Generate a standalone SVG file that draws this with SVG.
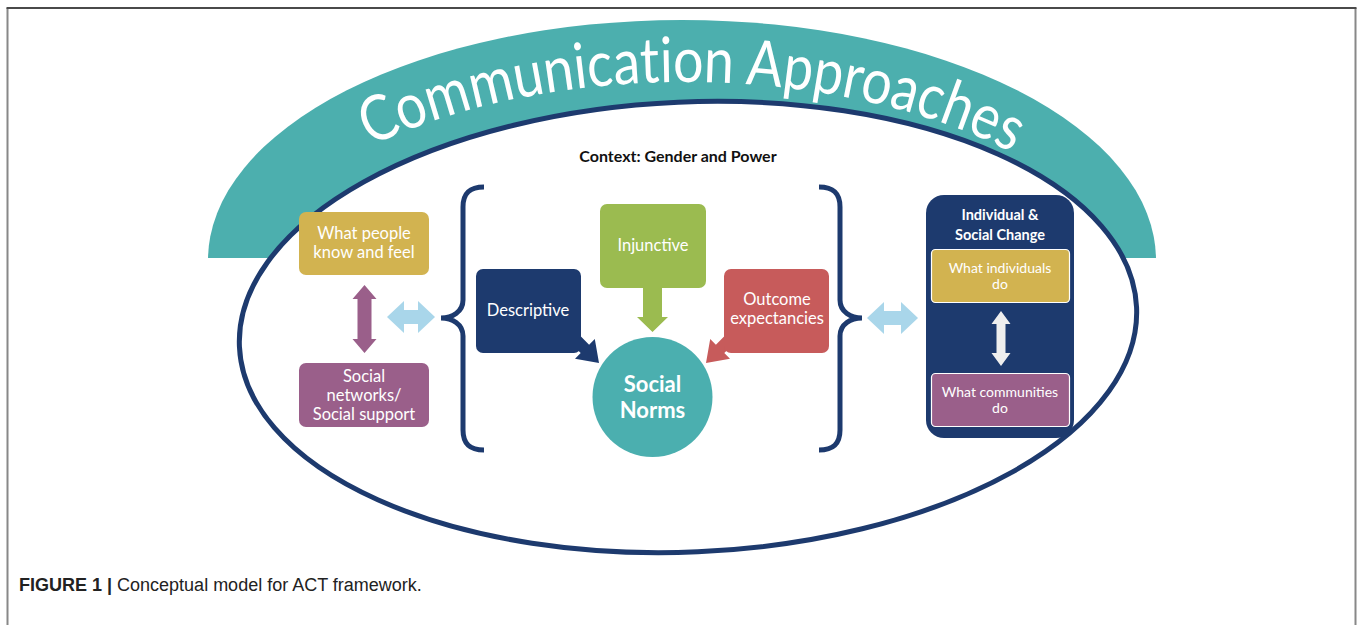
<svg xmlns="http://www.w3.org/2000/svg" xmlns:xlink="http://www.w3.org/1999/xlink" width="1358" height="625" viewBox="0 0 1358 625">
  <style>
    .lbl { font-family: Lato, "Open Sans", sans-serif; fill: #ffffff; text-anchor: middle; }
    .bold { font-weight: bold; }
    .navy { fill: #1d3a6e; }
    .gold { fill: #d2b350; }
    .purple { fill: #9a5f8a; }
    .brace { fill: none; stroke: #1d3a6e; stroke-width: 5; }
    .cap { font-family: "Liberation Sans", Arial, sans-serif; font-size: 18px; fill: #222; }
    .arc { font-family: Lato, "Open Sans", sans-serif; fill: #ffffff; font-size: 63px; font-variant-ligatures: none; font-feature-settings: "liga" 0; }
  </style>
  <defs>
    <path id="brace" d="M 484 187 C 470 187 463 193 463 207 L 463 300 C 463 312 452 318 441 318 C 452 318 463 324 463 336 L 463 430 C 463 444 470 450 484 450"/>
    <path id="arcText" d="M 217 330 A 468 248 0 0 1 1153 330"/>
    <clipPath id="upper"><rect x="0" y="0" width="1358" height="258"/></clipPath>
  </defs>

  <rect width="1358" height="625" fill="#ffffff"/>
  <!-- figure frame -->
  <line x1="7.5" y1="8" x2="7.5" y2="625" stroke="#888" stroke-width="2"/>
  <line x1="1355.5" y1="8" x2="1355.5" y2="625" stroke="#888" stroke-width="2"/>
  <line x1="6.5" y1="8" x2="1356.5" y2="8" stroke="#4a4a4a" stroke-width="2"/>

  <!-- teal band and the outer oval -->
  <g id="band">
    <ellipse cx="682" cy="260" rx="474" ry="240" fill="#4cafae" clip-path="url(#upper)"/>
    <ellipse cx="688" cy="327" rx="449" ry="225" transform="rotate(-2.5 688 327)" fill="#ffffff" stroke="#1d3a6e" stroke-width="5"/>
    <text class="arc" textLength="372" lengthAdjust="spacingAndGlyphs"><textPath xlink:href="#arcText" startOffset="252">Communication</textPath></text>
    <text class="arc" textLength="277" lengthAdjust="spacingAndGlyphs"><textPath xlink:href="#arcText" startOffset="636">Approaches</textPath></text>
  </g>

  <text id="context" x="678" y="162" font-family="Lato, 'Open Sans', sans-serif" font-weight="bold" font-size="16" text-anchor="middle" fill="#111">Context: Gender and Power</text>

  <!-- connectors -->
  <g id="connectors">
    <polygon points="364.5,285 376.5,299 371.5,299 371.5,339 376.5,339 364.5,353 352.5,339 357.5,339 357.5,299 352.5,299" fill="#9a5f8a"/>
    <polygon points="387,317 404,301 404,310 418,310 418,301 435,317 418,333 418,324 404,324 404,333" fill="#a9d6ea"/>
    <polygon points="867,318 884,302 884,311 901,311 901,302 918,318 901,334 901,325 884,325 884,334" fill="#a9d6ea"/>
    <polygon points="643,286 662,286 662,317 668,317 652.5,332 637,317 643,317" fill="#9bbb50"/>
    <polygon id="arrowDesc" points="579.2,334.8 589.1,344.7 594.8,339 599,363 575,358.8 580.7,353.1 570.8,343.2" fill="#1d3a6e"/>
    <polygon points="579.2,334.8 589.1,344.7 594.8,339 599,363 575,358.8 580.7,353.1 570.8,343.2" fill="#c75b5b" transform="translate(1305 0) scale(-1 1)"/>
    <use xlink:href="#brace" class="brace"/>
    <use xlink:href="#brace" class="brace" transform="translate(1303 0) scale(-1 1)"/>
  </g>

  <g id="know-feel">
    <rect x="299" y="212" width="130" height="63" rx="7" class="gold"/>
    <text class="lbl" font-size="16.5" x="364" y="239">What people</text>
    <text class="lbl" font-size="16.5" x="364" y="258">know and feel</text>
  </g>

  <g id="social-networks">
    <rect x="299" y="363" width="130" height="64" rx="7" class="purple"/>
    <text class="lbl" font-size="16.5" x="364" y="382">Social</text>
    <text class="lbl" font-size="16.5" x="364" y="401">networks/</text>
    <text class="lbl" font-size="16.5" x="364" y="420">Social support</text>
  </g>

  <g id="injunctive">
    <rect x="600" y="204" width="106" height="84" rx="7" fill="#9bbb50"/>
    <text class="lbl" font-size="16.5" x="653" y="251">Injunctive</text>
  </g>

  <g id="descriptive">
    <rect x="476" y="269" width="105" height="84" rx="7" class="navy"/>
    <text class="lbl" font-size="16.5" x="528" y="316">Descriptive</text>
  </g>

  <g id="outcome">
    <rect x="724" y="269" width="105" height="84" rx="7" fill="#c75b5b"/>
    <text class="lbl" font-size="16.5" x="777" y="305">Outcome</text>
    <text class="lbl" font-size="16.5" x="777" y="324">expectancies</text>
  </g>

  <g id="social-norms">
    <circle cx="652.5" cy="397" r="60" fill="#4bafaf"/>
    <text class="lbl bold" font-size="22" x="652.5" y="392">Social</text>
    <text class="lbl bold" font-size="22" x="652.5" y="418">Norms</text>
  </g>

  <g id="change">
    <rect x="926" y="195" width="148" height="243" rx="18" class="navy"/>
    <text class="lbl bold" font-size="14.5" x="1000" y="220">Individual &amp;</text>
    <text class="lbl bold" font-size="14.5" x="1000" y="240">Social Change</text>
    <rect x="931.5" y="249.5" width="138" height="53" rx="4" class="gold" stroke="#ffffff" stroke-width="1.2"/>
    <text class="lbl" font-size="14" x="1000" y="273">What individuals</text>
    <text class="lbl" font-size="14" x="1000" y="289">do</text>
    <polygon points="1001,311 1010.5,324 1005.5,324 1005.5,353 1010.5,353 1001,366 991.5,353 996.5,353 996.5,324 991.5,324" fill="#eeeeee"/>
    <rect x="931.5" y="373.5" width="138" height="53" rx="4" class="purple" stroke="#ffffff" stroke-width="1.2"/>
    <text class="lbl" font-size="14" x="1000" y="397">What communities</text>
    <text class="lbl" font-size="14" x="1000" y="413">do</text>
  </g>

  <text class="cap" x="19" y="591"><tspan font-weight="bold">FIGURE 1 |</tspan> Conceptual model for ACT framework.</text>
</svg>
